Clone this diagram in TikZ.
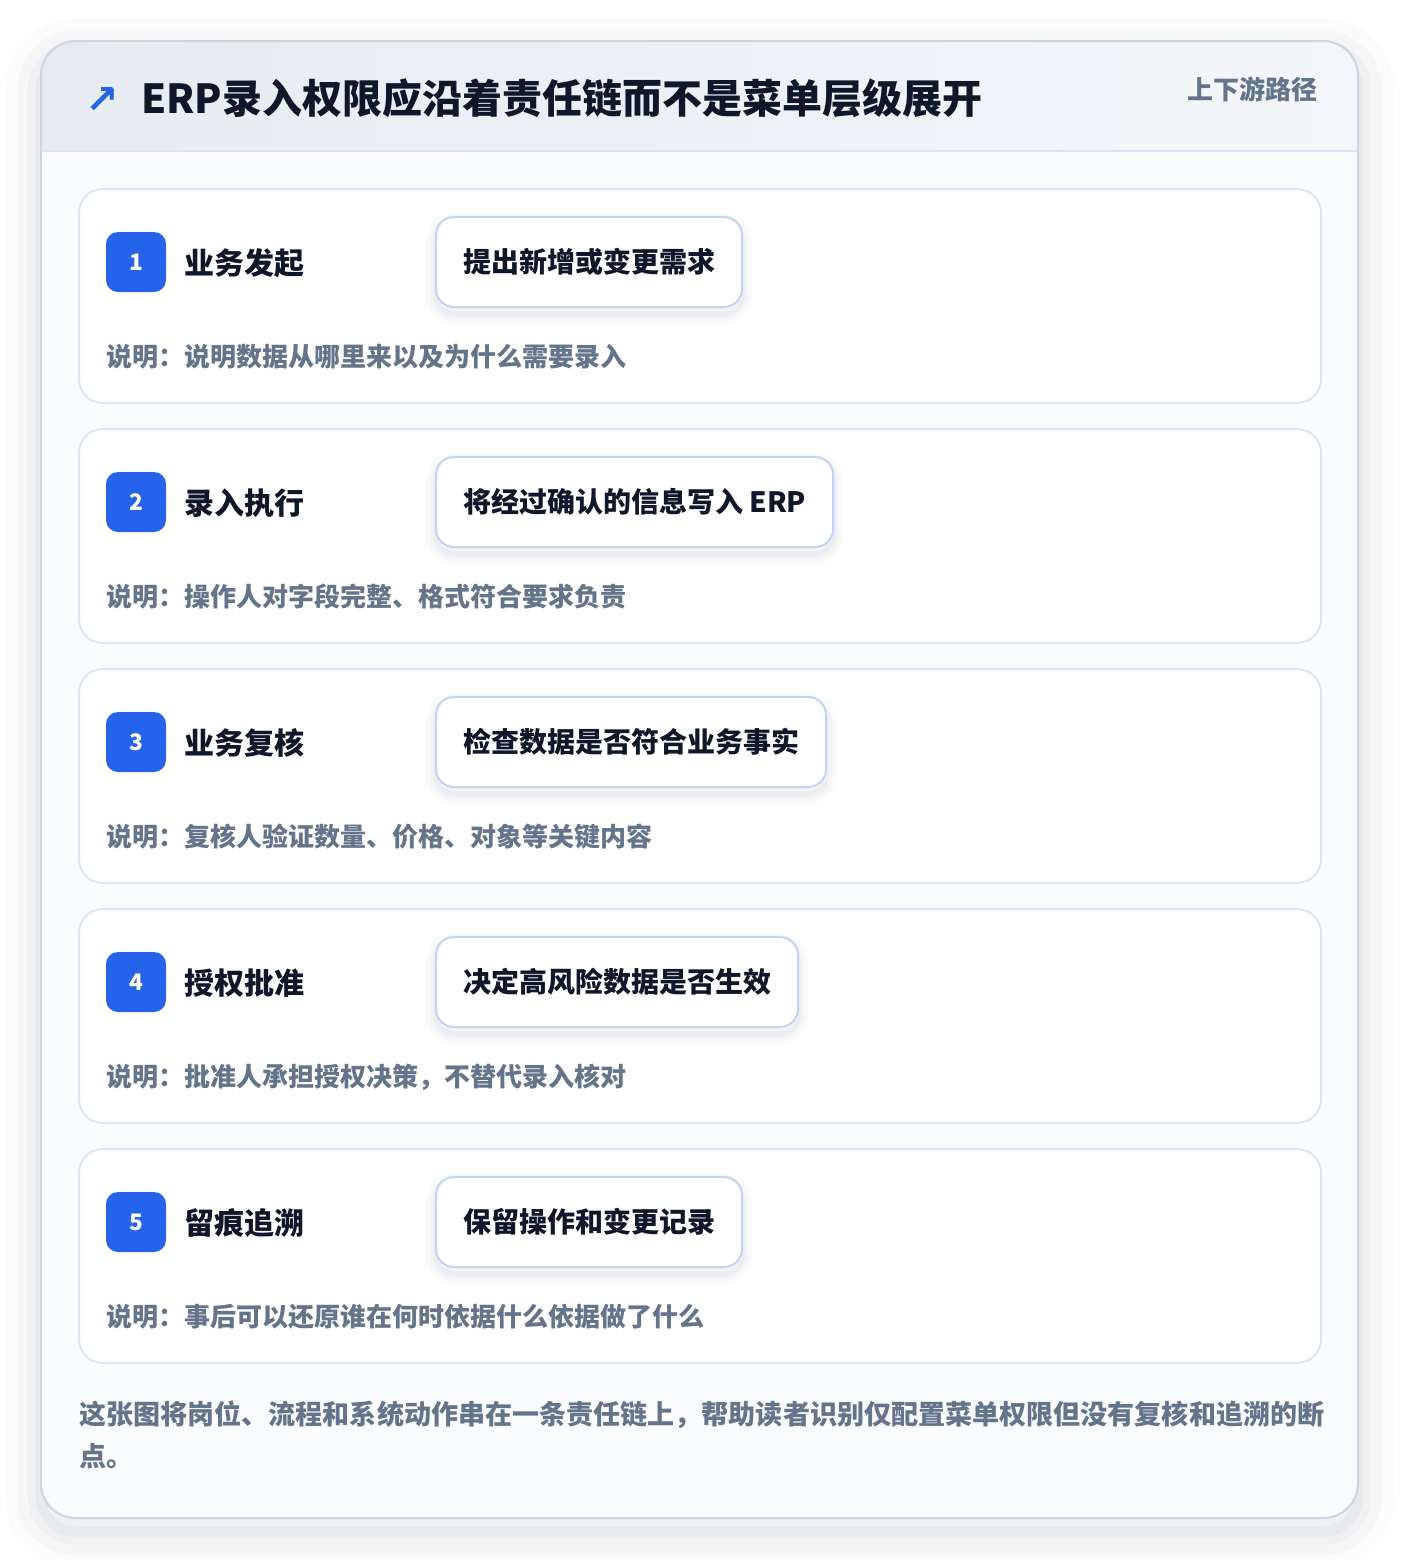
\documentclass[tikz,border=0pt]{standalone}
\usepackage{fontspec}
\setmainfont{Noto Sans CJK SC}
\newfontfamily\symfont{DejaVu Sans}
\definecolor{brand}{HTML}{2563EB}
\definecolor{ink}{HTML}{0F172A}
\definecolor{muted}{HTML}{64748B}
\definecolor{frameline}{HTML}{CBD5E1}
\definecolor{cardline}{HTML}{DCE6F3}
\definecolor{actline}{HTML}{BFD5F3}
\definecolor{headl}{HTML}{E6EBF3}
\definecolor{headr}{HTML}{F4F6F9}
\definecolor{headline}{HTML}{D8E4F4}
\definecolor{bodyfill}{HTML}{FBFCFD}
\definecolor{shade}{HTML}{334155}

\begin{document}
\begin{tikzpicture}[x=0.75pt,y=-0.75pt,
    halo/.style     ={preaction={draw=shade, draw opacity=0.025, line width=15pt, transform canvas={yshift=-5pt}},
                      preaction={draw=shade, draw opacity=0.03, line width=9pt, transform canvas={yshift=-5pt}},
                      preaction={draw=shade, draw opacity=0.035, line width=4pt, transform canvas={yshift=-5pt}}},
    bighalo/.style  ={preaction={draw=shade, draw opacity=0.02, line width=54pt, transform canvas={yshift=-10pt}},
                      preaction={draw=shade, draw opacity=0.025, line width=36pt, transform canvas={yshift=-10pt}},
                      preaction={draw=shade, draw opacity=0.03, line width=20pt, transform canvas={yshift=-10pt}},
                      preaction={draw=shade, draw opacity=0.035, line width=8pt, transform canvas={yshift=-10pt}}},
    stepcard/.style ={draw=cardline, fill=white, line width=1.5pt, rounded corners=18pt,
                      minimum width=931.5pt, minimum height=160.5pt},
    badge/.style    ={fill=brand, rounded corners=9pt, minimum size=45pt, inner sep=0pt,
                      text=white, font=\bfseries\fontsize{17}{20}\selectfont},
    steptitle/.style={anchor=west, inner sep=0pt, text=ink, font=\bfseries\fontsize{22.5}{27}\selectfont},
    action/.style   ={anchor=west, halo, draw=actline, fill=white, line width=1.5pt, rounded corners=13.5pt,
                      minimum height=67.5pt, inner xsep=20.25pt, text=ink,
                      font=\bfseries\fontsize{21}{25}\selectfont},
    note/.style     ={anchor=west, inner sep=0pt, text=muted, font=\bfseries\fontsize{19.5}{24}\selectfont}]
   \useasboundingbox (0,0) rectangle (1400,1560);
   \fill[white] (0,0) rectangle (1400,1560);
   % outer card with header band
   \fill[bighalo, bodyfill, rounded corners=26pt] (41,41) rectangle (1358,1518);
   \begin{scope}
     \clip[rounded corners=26pt] (41,41) rectangle (1358,1518);
     \shade[left color=headl, right color=headr] (41,41) rectangle (1358,151);
   \end{scope}
   \draw[headline, line width=1.5pt] (41,151) -- (1358,151);
   \draw[frameline, line width=1.5pt, rounded corners=26pt] (41,41) rectangle (1358,1518);
   \node[text=brand, font=\symfont\bfseries\fontsize{30}{34}\selectfont] (icon) at (102,100) {↗};
   \node[anchor=west, inner sep=0pt, text=ink, font=\bfseries\fontsize{30}{36}\selectfont]
        (title) at (141,98) {ERP录入权限应沿着责任链而不是菜单层级展开};
   \node[anchor=east, inner sep=0pt, text=muted, font=\bfseries\fontsize{19.5}{24}\selectfont]
        (tag) at (1318,89) {上下游路径};
   % step 1
   \node[stepcard] (card1) at (700,296) {};
   \node[badge] (b1) at (136,262) {1};
   \node[steptitle] (t1) at (184,263) {业务发起};
   \node[action] (a1) at (435,262) {提出新增或变更需求};
   \node[note] (n1) at (106,357) {说明：说明数据从哪里来以及为什么需要录入};
   % step 2
   \node[stepcard] (card2) at (700,536) {};
   \node[badge] (b2) at (136,502) {2};
   \node[steptitle] (t2) at (184,503) {录入执行};
   \node[action] (a2) at (435,502) {将经过确认的信息写入 ERP};
   \node[note] (n2) at (106,597) {说明：操作人对字段完整、格式符合要求负责};
   % step 3
   \node[stepcard] (card3) at (700,776) {};
   \node[badge] (b3) at (136,742) {3};
   \node[steptitle] (t3) at (184,743) {业务复核};
   \node[action] (a3) at (435,742) {检查数据是否符合业务事实};
   \node[note] (n3) at (106,837) {说明：复核人验证数量、价格、对象等关键内容};
   % step 4
   \node[stepcard] (card4) at (700,1016) {};
   \node[badge] (b4) at (136,982) {4};
   \node[steptitle] (t4) at (184,983) {授权批准};
   \node[action] (a4) at (435,982) {决定高风险数据是否生效};
   \node[note] (n4) at (106,1077) {说明：批准人承担授权决策，不替代录入核对};
   % step 5
   \node[stepcard] (card5) at (700,1256) {};
   \node[badge] (b5) at (136,1222) {5};
   \node[steptitle] (t5) at (184,1223) {留痕追溯};
   \node[action] (a5) at (435,1222) {保留操作和变更记录};
   \node[note] (n5) at (106,1317) {说明：事后可以还原谁在何时依据什么依据做了什么};
   % closing remark
   \node[note, font=\bfseries\fontsize{20.3}{24}\selectfont] (foot1) at (79,1415)
        {这张图将岗位、流程和系统动作串在一条责任链上，帮助读者识别仅配置菜单权限但没有复核和追溯的断};
   \node[note, font=\bfseries\fontsize{20.3}{24}\selectfont] (foot2) at (79,1456) {点。};
 \end{tikzpicture}
\end{document}
